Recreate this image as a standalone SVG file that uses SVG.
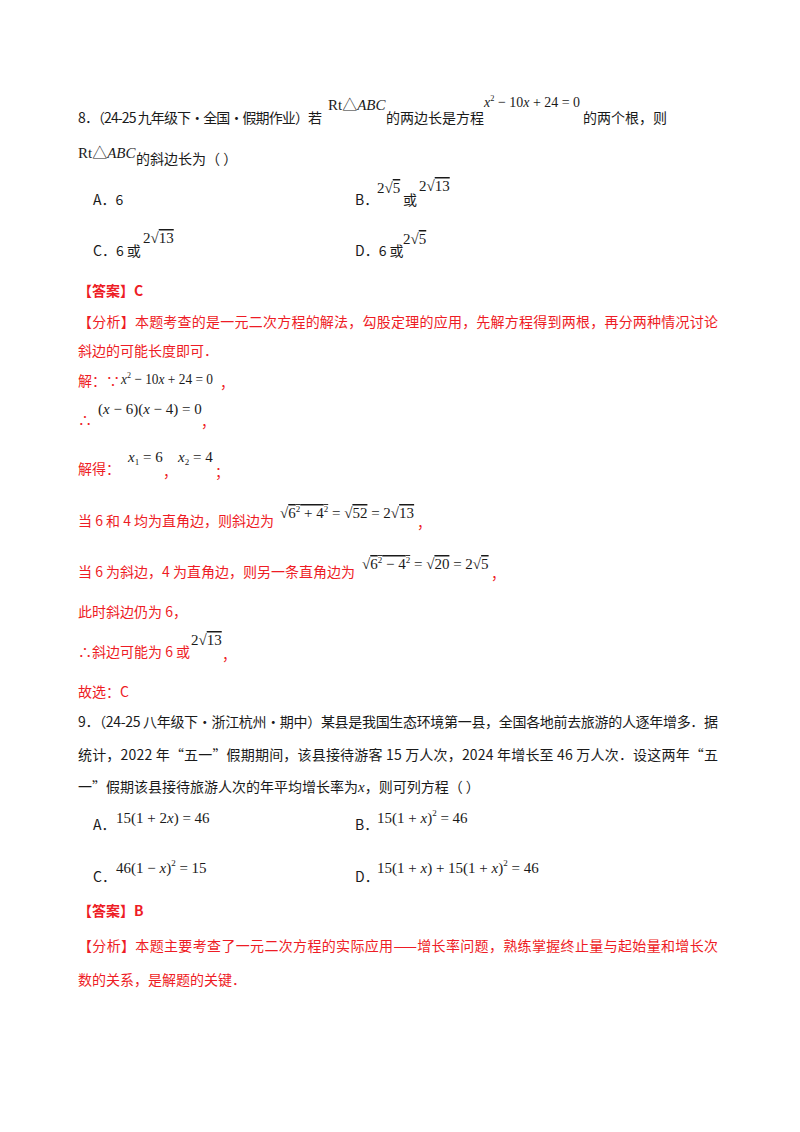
<svg xmlns="http://www.w3.org/2000/svg" width="800" height="1132" viewBox="0 0 800 1132">
<style>
.t{font-family:"Noto Sans CJK SC","Noto Sans",sans-serif;font-size:14px;fill:#1a1a1a}
.r{font-family:"Noto Sans CJK SC","Noto Sans",sans-serif;font-size:14px;fill:#ee1c25}
.b{font-weight:bold}
.m{font-family:"Liberation Serif","Noto Sans CJK SC",serif;font-size:15px;fill:#1a1a1a}
.i{font-style:italic}
.o{text-decoration:overline}
</style>
<rect width="800" height="1132" fill="#fff"/>
<text class="t" x="78" y="123" textLength="244">8．（24-25 九年级下·全国·假期作业）若</text>
<text class="m" x="328" y="110">Rt△<tspan class="i">ABC</tspan></text>
<text class="t" x="386" y="123">的两边长是方程</text>
<text class="m" x="484" y="107" textLength="96" lengthAdjust="spacingAndGlyphs"><tspan class="i">x</tspan><tspan font-size="9" dy="-6">2</tspan><tspan dy="6"> − 10</tspan><tspan class="i">x</tspan> + 24 = 0</text>
<text class="t" x="583" y="123">的两个根，则</text>
<text class="m" x="78" y="158">Rt△<tspan class="i">ABC</tspan></text>
<text class="t" x="136" y="164">的斜边长为（  ）</text>
<text class="t" x="93" y="205">A．6</text>
<text class="t" x="355" y="205">B．</text>
<text class="m" x="377" y="193" font-size="13">2√<tspan class="o">5</tspan></text>
<text class="t" x="403" y="205">或</text>
<text class="m" x="419" y="191">2√<tspan class="o">13</tspan></text>
<text class="t" x="93" y="256">C．6 或</text>
<text class="m" x="143" y="243">2√<tspan class="o">13</tspan></text>
<text class="t" x="355" y="256">D．6 或</text>
<text class="m" x="403" y="244" font-size="13">2√<tspan class="o">5</tspan></text>
<text class="r b" x="78" y="296">【答案】C</text>
<text class="r" x="78" y="327" textLength="640">【分析】本题考查的是一元二次方程的解法，勾股定理的应用，先解方程得到两根，再分两种情况讨论</text>
<text class="r" x="78" y="356">斜边的可能长度即可．</text>
<text class="r" x="78" y="386">解：∵</text>
<text class="m" x="121" y="384" textLength="92" lengthAdjust="spacingAndGlyphs"><tspan class="i">x</tspan><tspan font-size="9" dy="-6">2</tspan><tspan dy="6"> − 10</tspan><tspan class="i">x</tspan> + 24 = 0</text>
<text class="r" x="220" y="388">，</text>
<text class="r" x="78" y="425">∴</text>
<text class="m" x="98" y="414">(<tspan class="i">x</tspan> − 6)(<tspan class="i">x</tspan> − 4) = 0</text>
<text class="r" x="201" y="427">，</text>
<text class="r" x="78" y="474">解得：</text>
<text class="m" x="128" y="462"><tspan class="i">x</tspan><tspan font-size="9" dy="3">1</tspan><tspan dy="-3"> = 6</tspan></text>
<text class="r" x="163" y="477">，</text>
<text class="m" x="178" y="462"><tspan class="i">x</tspan><tspan font-size="9" dy="3">2</tspan><tspan dy="-3"> = 4</tspan></text>
<text class="r" x="215" y="477">；</text>
<text class="r" x="78" y="526">当 6 和 4 均为直角边，则斜边为</text>
<text class="m" x="280" y="518">√<tspan class="o">6<tspan font-size="9" dy="-6">2</tspan><tspan dy="6"> + 4</tspan><tspan font-size="9" dy="-6">2</tspan></tspan><tspan dy="6"> = √</tspan><tspan class="o">52</tspan> = 2√<tspan class="o">13</tspan></text>
<text class="r" x="417" y="528">，</text>
<text class="r" x="78" y="577">当 6 为斜边，4 为直角边，则另一条直角边为</text>
<text class="m" x="362" y="569">√<tspan class="o">6<tspan font-size="9" dy="-6">2</tspan><tspan dy="6"> − 4</tspan><tspan font-size="9" dy="-6">2</tspan></tspan><tspan dy="6"> = √</tspan><tspan class="o">20</tspan> = 2√<tspan class="o">5</tspan></text>
<text class="r" x="491" y="579">，</text>
<text class="r" x="78" y="617">此时斜边仍为 6，</text>
<text class="r" x="78" y="657">∴斜边可能为 6 或</text>
<text class="m" x="191" y="645">2√<tspan class="o">13</tspan></text>
<text class="r" x="222" y="660">，</text>
<text class="r" x="78" y="697">故选：C</text>
<text class="t" x="78" y="727" textLength="640">9．（24-25 八年级下·浙江杭州·期中）某县是我国生态环境第一县，全国各地前去旅游的人逐年增多．据</text>
<text class="t" x="78" y="760" textLength="640">统计，2022 年“五一”假期期间，该县接待游客 15 万人次，2024 年增长至 46 万人次．设这两年“五</text>
<text class="t" x="78" y="792">一”假期该县接待旅游人次的年平均增长率为<tspan font-family="Liberation Serif" font-style="italic" font-size="15">x</tspan>，则可列方程（    ）</text>
<text class="t" x="93" y="830">A．</text>
<text class="m" x="116" y="823">15(1 + 2<tspan class="i">x</tspan>) = 46</text>
<text class="t" x="355" y="830">B．</text>
<text class="m" x="377" y="823">15(1 + <tspan class="i">x</tspan>)<tspan font-size="9" dy="-7">2</tspan><tspan dy="7"> = 46</tspan></text>
<text class="t" x="93" y="882">C．</text>
<text class="m" x="116" y="873">46(1 − <tspan class="i">x</tspan>)<tspan font-size="9" dy="-7">2</tspan><tspan dy="7"> = 15</tspan></text>
<text class="t" x="355" y="882">D．</text>
<text class="m" x="377" y="873">15(1 + <tspan class="i">x</tspan>) + 15(1 + <tspan class="i">x</tspan>)<tspan font-size="9" dy="-7">2</tspan><tspan dy="7"> = 46</tspan></text>
<text class="r b" x="78" y="916">【答案】B</text>
<text class="r" x="78" y="951" textLength="640">【分析】本题主要考查了一元二次方程的实际应用——增长率问题，熟练掌握终止量与起始量和增长次</text>
<text class="r" x="78" y="985">数的关系，是解题的关键．</text>
</svg>
